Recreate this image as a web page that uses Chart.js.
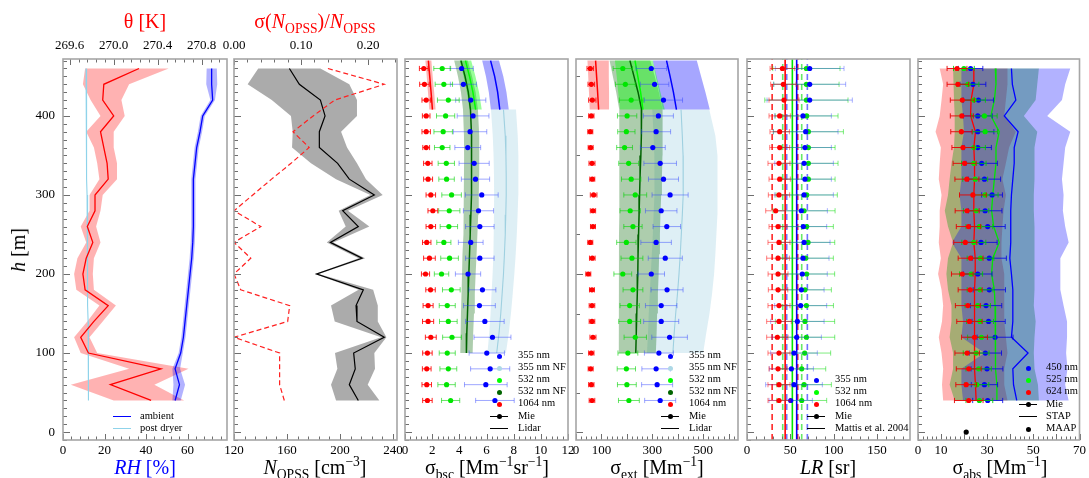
<!DOCTYPE html>
<html><head><meta charset="utf-8">
<script src="https://cdn.jsdelivr.net/npm/chart.js@4.4.1/dist/chart.umd.min.js"></script>
<style>
html,body{margin:0;padding:0;background:#fff;}
#wrap{position:relative;width:1089px;height:478px;overflow:hidden;font-family:'Liberation Serif','Times New Roman',serif;}
#wrap canvas{position:absolute;left:0;top:0;}
.t{position:absolute;white-space:nowrap;line-height:1;color:#000;}
.c{transform:translateX(-50%);}
.ttl{font-size:20px;}
.t sub,.t sup{font-size:68%;line-height:0;}
.lg{position:absolute;font-size:10.5px;line-height:1;white-space:nowrap;color:#000;}
.dot{position:absolute;width:5px;height:5px;border-radius:50%;}
.ln{position:absolute;height:0;}
</style></head>
<body><div id="wrap">
<canvas id="c1" width="1089" height="478"></canvas>
<canvas id="c2" width="1089" height="478"></canvas>
<canvas id="c3" width="1089" height="478"></canvas>
<canvas id="c4" width="1089" height="478"></canvas>
<canvas id="c5" width="1089" height="478"></canvas>
<canvas id="c6" width="1089" height="478"></canvas>
<div class="t c ttl" style="left:145px;top:11px;color:#f00">θ [K]</div>
<div class="t c ttl" style="left:315px;top:11px;color:#f00">σ(<i>N</i><sub>OPSS</sub>)/<i>N</i><sub>OPSS</sub></div>
<div class="t c ttl" style="left:145px;top:457px;color:#00f"><i>RH</i> [%]</div>
<div class="t c ttl" style="left:315px;top:457px"><i>N</i><sub>OPSS</sub> [cm<sup>−3</sup>]</div>
<div class="t c ttl" style="left:487px;top:457px">σ<sub>bsc</sub> [Mm<sup>−1</sup>sr<sup>−1</sup>]</div>
<div class="t c ttl" style="left:657px;top:457px">σ<sub>ext</sub> [Mm<sup>−1</sup>]</div>
<div class="t c ttl" style="left:828px;top:457px"><i>LR</i> [sr]</div>
<div class="t c ttl" style="left:1000px;top:457px">σ<sub>abs</sub> [Mm<sup>−1</sup>]</div>
<div class="t ttl" style="left:18px;top:250px;transform:translate(-50%,-50%) rotate(-90deg)"><i>h</i> [m]</div>
</div>
<script>
// ---------------- DATA ----------------
const heights = [460,440,420,400,380,360,340,320,300,280,260,240,220,200,180,160,140,120,100,80,60,40];

// Panel 1: RH and potential temperature
const rhAmbient   = [71.6,71.6,72.1,67.3,66.0,64.4,63.6,62.8,62.8,62.8,62.8,62.5,62.0,61.2,60.4,59.6,58.8,58.0,56.7,54.0,56.1,54.0];
const rhAmbientLo = [69.2,69.0,71.0,66.3,65.0,63.4,62.6,61.8,61.8,61.8,61.8,61.5,61.0,60.2,59.4,58.6,57.8,57.0,55.7,52.7,53.2,52.7];
const rhAmbientHi = [74.1,74.3,73.2,68.3,67.0,65.4,64.6,63.8,63.8,63.8,63.8,63.5,63.0,62.2,61.4,60.6,59.8,59.0,57.7,56.4,58.8,56.7];
const rhPostDryer = [11.1,11.2,11.2,11.3,11.4,11.4,11.5,11.5,11.6,11.7,11.7,11.8,11.8,11.9,12.0,12.0,12.1,12.1,12.2,12.3,12.3,12.4];
const theta   = [270.23,269.91,269.90,270.00,269.88,269.91,269.94,269.95,269.83,269.83,269.76,269.81,269.75,269.72,269.74,269.95,269.82,269.70,269.77,270.43,269.97,270.34];
const thetaLo = [269.74,269.72,269.79,269.88,269.75,269.82,269.85,269.87,269.78,269.78,269.70,269.75,269.67,269.64,269.66,269.87,269.76,269.64,269.70,270.14,269.61,270.00];
const thetaHi = [270.50,270.14,270.07,270.10,270.00,270.00,270.03,270.03,269.90,269.88,269.84,269.88,269.82,269.81,269.82,270.02,269.90,269.78,269.85,270.68,270.37,270.64];

// Panel 2: OPSS number concentration
const nOpss   = [161.8,169.3,185.2,188.7,184.4,184.4,198.2,207.0,225.9,202.0,213.8,192.7,216.6,182.4,217.6,212.1,212.8,233.4,210.3,211.5,207.0,213.8];
const nOpssLo = [138.3,130.3,148.5,163.0,164.3,163.8,178.1,197.0,222.9,199.0,204.3,190.0,214.0,181.0,214.0,193.2,196.0,231.0,196.2,198.0,193.2,197.0];
const nOpssHi = [185.2,207.0,212.8,212.8,200.8,205.3,212.8,219.6,232.2,206.0,222.1,195.0,219.0,184.0,225.0,228.5,228.5,235.0,225.9,226.4,220.9,229.7];
const nOpssRelStd = [0.140,0.224,0.150,0.118,0.088,0.112,0.085,0.056,0.028,0.000,0.040,0.000,0.025,0.000,0.010,0.083,0.080,0.000,0.068,0.068,0.068,0.075];

// Panel 3: backscatter (Mie)
const bsc1064    = [1.38,1.43,1.56,1.56,1.56,1.56,1.68,1.70,1.90,2.05,1.90,1.60,1.80,1.51,1.88,1.70,1.70,1.90,1.65,1.60,1.60,1.65];
const bsc1064Err = [0.32,0.35,0.31,0.28,0.31,0.25,0.31,0.33,0.35,0.36,0.35,0.31,0.43,0.30,0.35,0.37,0.41,0.40,0.35,0.32,0.35,0.35];
const bsc532     = [2.74,2.86,3.19,2.99,2.81,2.74,3.04,3.06,3.43,3.26,3.23,2.86,3.28,2.69,3.41,3.11,3.19,3.46,3.11,3.19,3.06,3.36];
const bsc532Err  = [0.62,0.64,0.80,0.67,0.68,0.57,0.60,0.57,0.72,0.78,0.64,0.52,0.65,0.53,0.65,0.59,0.65,0.69,0.59,0.62,0.64,0.67];
const bsc355     = [4.17,4.30,4.84,5.01,4.79,4.62,5.09,5.19,5.65,5.41,5.51,4.84,5.51,4.64,5.70,5.48,5.88,6.44,6.02,6.27,5.95,6.62];
const bsc355Err  = [0.86,0.96,1.11,1.17,1.23,0.95,1.11,1.04,1.21,1.11,1.05,0.91,1.05,0.93,0.99,1.17,1.42,1.36,1.30,1.44,1.57,1.42];
// Panel 3: backscatter (Lidar)
const lidarHeightsFF = [470,450,430,408];
const bscLidar1064    = [1.72,1.82,1.92,2.02];
const bscLidar1064Err = [0.22,0.22,0.23,0.23];
const bscLidar532     = [4.45,4.75,5.00,5.20];
const bscLidar532Err  = [0.42,0.44,0.45,0.45];
const bscLidar355     = [6.30,6.60,6.82,6.98];
const bscLidar355Err  = [0.62,0.64,0.65,0.66];
const lidarHeightsNF532 = [470,450,430,408,375,350,325,300,275,250,225,200,175,150,125,100];
const bscLidar532NF     = [4.12,4.42,4.66,4.82,4.90,4.91,4.90,4.88,4.85,4.80,4.75,4.70,4.65,4.60,4.55,4.52];
const bscLidar532NFErr  = [0.50,0.52,0.54,0.55,0.56,0.56,0.56,0.55,0.54,0.53,0.52,0.50,0.49,0.48,0.47,0.46];
const lidarHeightsNF355 = [408,375,350,325,300,275,250,225,200,175,150,125,100];
const bscLidar355NF     = [7.25,7.38,7.43,7.45,7.45,7.42,7.38,7.32,7.25,7.15,7.05,6.92,6.75];
const bscLidar355NFErr  = [0.92,0.92,0.91,0.90,0.89,0.87,0.85,0.83,0.80,0.78,0.75,0.72,0.68];

// Panel 4: extinction (Mie)
const ext1064    = [56.2,60.2,64.1,60.2,56.2,57.6,62.8,64.1,69.3,66.7,66.7,56.2,64.1,48.4,62.8,62.8,62.8,66.7,60.2,57.6,60.2,62.8];
const ext1064Err = [13.0,13.0,14.4,10.5,9.8,9.8,11.8,9.8,13.0,10.5,9.8,9.8,11.1,9.8,9.8,11.1,11.1,11.8,10.5,9.8,10.5,11.1];
const ext532     = [184,194,217,201,198,191,207,217,233,213,224,198,220,184,224,211,211,233,204,198,200,208];
const ext532Err  = [38,39,47,38,34,31,39,38,45,40,36,38,43,35,39,38,43,44,39,36,37,41];
const ext355     = [296,309,344,324,315,302,331,344,370,335,357,315,351,296,358,335,335,368,326,315,319,331];
const ext355Err  = [60,56,75,59,57,49,64,59,71,62,54,60,67,52,63,62,69,70,57,56,61,61];
// Panel 4: extinction (Lidar)
const extLidar1064   = [77,81,85,89];
const extLidar1064Lo = [45,48,51,54];
const extLidar1064Hi = [129,129,130,130];
const extLidar532    = [232,243,254,263];
const extLidar532Lo  = [153,160,166,173];
const extLidar532Hi  = [302,317,332,349];
const extLidar355    = [356,370,383,395];
const extLidar355Lo  = [302,314,327,341];
const extLidar355Hi  = [475,492,509,526];
const extLidar532NF   = [212,228,244,258,257,255,252,250,248,246,244,243,241,239,237,235];
const extLidar532NFLo = [132,145,158,170,171,171,170,170,170,169,169,169,168,168,168,168];
const extLidar532NFHi = [292,310,326,340,341,340,338,335,332,330,327,325,322,319,317,314];
const extLidar355NF   = [413,418,421,422,421,418,414,410,405,399,392,386,381];
const extLidar355NFLo = [300,305,308,309,308,305,302,298,294,290,286,283,279];
const extLidar355NFHi = [524,548,555,557,557,556,552,548,543,535,525,512,500];

// Panel 5: lidar ratio
const lr1064    = [40.8,41.9,42.7,37.7,37.7,37.7,36.9,37.7,36.9,33.1,35.8,36.9,35.8,35.8,35.8,36.9,36.9,35.0,36.9,35.8,36.9,36.9];
const lr1064Err = [14.2,14.6,17.3,12.3,11.2,11.5,12.7,12.3,12.3,11.5,10.4,12.7,13.1,11.5,11.2,12.7,14.2,12.3,12.7,10.4,12.7,12.7];
const lr532     = [68.5,68.5,68.5,68.8,70.8,70.8,70.8,70.8,68.8,65.8,68.8,70.4,67.7,68.8,66.9,68.5,66.9,68.5,66.5,63.1,65.8,63.1];
const lr532Err  = [38.8,37.7,48.0,36.2,40.4,30.8,34.2,30.8,35.4,35.8,30.8,30.8,31.9,32.3,30.4,31.2,34.2,32.7,30.0,27.7,31.5,28.8];
const lr355     = [72.3,72.3,72.3,64.6,67.7,66.9,65.8,66.9,65.8,62.7,65.0,65.8,64.6,63.8,62.7,61.9,58.1,57.3,54.2,51.2,54.2,50.4];
const lr355Err  = [39.6,41.5,49.2,32.7,37.3,30.4,33.8,30.4,33.8,30.0,26.9,30.0,30.0,28.8,26.2,30.0,30.8,28.5,26.9,25.4,32.7,25.0];
// Mattis et al. 2004 (355, 532, 1064)
const lrMattis   = [57.3,52.3,44.0];
const lrMattisLo = [45.8,41.2,29.0];
const lrMattisHi = [69.6,63.1,58.5];

// Panel 6: absorption
const abs624    = [16.9,17.3,19.2,19.0,18.8,19.5,20.2,21.2,23.8,21.3,21.9,20.5,22.8,19.2,22.6,21.6,22.3,24.5,21.3,22.0,20.9,22.0];
const abs624Err = [4.3,4.7,5.2,5.0,4.6,4.8,5.0,5.2,5.8,5.2,5.3,5.0,5.4,4.7,5.2,5.4,5.5,5.6,5.3,5.4,4.5,6.2];
const abs525    = [19.9,21.6,24.2,28.8,29.1,24.2,24.2,24.8,29.1,25.2,26.6,24.2,27.1,23.0,26.9,25.9,26.9,27.5,25.2,26.3,25.5,26.6];
const abs525Err = [4.5,4.8,5.0,5.5,5.4,5.0,5.3,5.4,5.6,5.5,5.8,5.2,5.8,5.0,5.6,5.5,5.8,6.0,5.6,5.5,5.2,5.8];
const abs450    = [22.8,23.8,26.2,25.9,25.9,25.9,27.6,28.8,32.1,29.1,30.2,27.3,30.9,25.9,30.9,29.5,30.6,33.4,29.2,29.9,28.8,30.2];
const abs450Err = [5.3,5.6,6.5,6.3,7.0,5.9,6.8,7.0,4.5,7.3,7.6,7.0,7.4,6.2,7.0,6.8,7.2,7.8,7.0,6.9,5.7,6.5];
const stap624   = [24.2,24.2,23.0,22.8,24.9,24.2,24.5,24.5,24.2,24.2,24.5,24.2,24.8,24.8,24.5,24.5,24.5,24.5,24.5,24.5,24.9,25.2];
const stap624Lo = [9.4,10.9,10.2,9.4,7.6,9.9,9.4,9.0,10.2,9.4,9.4,9.0,9.9,8.7,10.2,10.9,10.4,9.0,10.2,10.9,10.4,10.9];
const stap624Hi = [38.8,38.8,38.1,37.4,42.4,39.5,38.1,36.6,38.1,37.1,36.6,36.2,36.2,37.4,37.4,37.4,37.4,38.1,38.8,37.4,37.4,38.8];
const stap525   = [33.5,33.8,33.1,31.6,35.2,33.8,33.8,33.1,32.4,31.9,32.8,35.2,32.4,31.9,33.1,33.4,33.4,33.4,33.8,33.8,34.2,34.2];
const stap525Lo = [15.2,15.6,15.6,15.9,15.9,15.6,14.5,13.7,13.0,11.6,13.0,15.2,13.0,12.3,13.0,14.5,14.5,13.7,15.2,15.2,13.7,15.9];
const stap525Hi = [52.4,51.7,51.0,45.9,51.7,50.5,50.5,50.5,50.2,50.2,50.5,50.5,50.5,50.5,50.5,50.2,51.0,50.5,50.2,50.5,52.0,52.4];
const stap450   = [40.5,40.9,42.4,37.4,43.4,41.7,41.7,41.1,40.5,40.2,40.2,40.2,39.8,40.5,41.1,41.1,41.1,40.5,47.7,41.1,41.4,42.8];
const stap450Lo = [18.8,18.8,18.8,19.5,19.9,18.8,18.8,18.8,18.0,18.8,18.8,14.7,18.8,18.8,18.8,18.8,19.5,18.8,28.8,18.8,18.8,19.5];
const stap450Hi = [66.0,63.8,62.4,56.0,66.0,63.8,63.1,62.4,63.1,62.8,63.8,65.3,61.7,61.7,61.7,63.1,64.6,64.6,64.2,64.8,63.8,65.3];
const maapAbs = [20.9];
const maapHeights = [0];

// Tick labels
const hTicks = [0,100,200,300,400];
const rhTicks = [0,20,40,60];
const thetaTicks = [269.6,270.0,270.4,270.8];
const nTicks = [120,160,200,240];
const relStdTicks = [0.00,0.10,0.20];
const bscTicks = [0,2,4,6,8,10,12];
const extTicks = [0,100,300,500];
const lrTicks = [0,50,100,150];
const absTicks = [0,10,30,50,70];

// ---------------- HELPERS ----------------
const FONT = "'Liberation Serif', 'Times New Roman', serif";
const W = 1089, HH = 478, TOP = 59, BOTTOM = 440, HMIN = -10, HMAX = 472;
const XAXIS_H = 22, YAXIS_W = 40;
const P = [{l:63,r:227},{l:234,r:397},{l:405,r:568},{l:576,r:738},{l:747,r:910},{l:918,r:1081}];

function seq(a, b, step){const o=[];for(let i=0;;i++){const v=a+i*step;if(v>b+1e-9)break;o.push(+v.toFixed(6));}return o;}
const pts = (xs, hs) => xs.map((x,i)=>({x, y:hs[i]}));
const poly = (lo, hi, hs) => pts(lo, hs).concat(pts(hi, hs).reverse());
const polyErr = (c, e, hs) => poly(c.map((v,i)=>v-e[i]), c.map((v,i)=>v+e[i]), hs);

const band = (data, color, xAxisID='x') => ({data, xAxisID, showLine:true, fill:'shape', backgroundColor:color, borderColor:'rgba(0,0,0,0)', borderWidth:0, pointRadius:0});
const line = (data, color, width, dash, xAxisID='x') => ({data, xAxisID, showLine:true, fill:false, borderColor:color, backgroundColor:color, borderWidth:width, borderDash:dash||[], pointRadius:0});
const dots = (data, color, err, errColor, r=2.6) => ({data, showLine:false, pointRadius:r, pointBorderWidth:0, pointBackgroundColor:color, backgroundColor:color, borderColor:color, errX:err, errColor});

const framePlugin = {
  id:'frame',
  afterDraw(chart, args, opts){
    const {ctx, chartArea:a} = chart;
    ctx.save();
    ctx.strokeStyle = '#6e6e6e'; ctx.lineWidth = 1;
    (opts.marks||[]).forEach(m=>{
      const s = chart.scales[m.scale];
      m.values.forEach(v=>{
        const p = Math.round(s.getPixelForValue(v))+0.5;
        ctx.beginPath();
        if(m.side==='left'){ctx.moveTo(a.left,p);ctx.lineTo(a.left+m.len,p);}
        else if(m.side==='bottom'){ctx.moveTo(p,a.bottom);ctx.lineTo(p,a.bottom-m.len);}
        else {ctx.moveTo(p,a.top);ctx.lineTo(p,a.top+m.len);}
        ctx.stroke();
      });
    });
    ctx.strokeStyle = '#a6a6a6'; ctx.lineWidth = 1.6;
    ctx.strokeRect(a.left, a.top, a.right-a.left, a.bottom-a.top);
    ctx.restore();
  }
};
const errPlugin = {
  id:'errbars',
  beforeDatasetDraw(chart, args){
    const ds = chart.data.datasets[args.index];
    if(!ds.errX) return;
    const xs = chart.scales[args.meta.xAxisID], ys = chart.scales[args.meta.yAxisID];
    const ctx = chart.ctx, a = chart.chartArea;
    ctx.save();
    ctx.beginPath(); ctx.rect(a.left, a.top, a.right-a.left, a.bottom-a.top); ctx.clip();
    ctx.strokeStyle = ds.errColor; ctx.lineWidth = 1;
    ds.data.forEach((p,i)=>{
      const e = ds.errX[i];
      const x0 = xs.getPixelForValue(p.x-e), x1 = xs.getPixelForValue(p.x+e), y = ys.getPixelForValue(p.y);
      ctx.beginPath();
      ctx.moveTo(x0,y); ctx.lineTo(x1,y);
      ctx.moveTo(x0,y-2.6); ctx.lineTo(x0,y+2.6);
      ctx.moveTo(x1,y-2.6); ctx.lineTo(x1,y+2.6);
      ctx.stroke();
    });
    ctx.restore();
  }
};

function xAxis(min, max, labels, fmt, position='bottom'){
  return {type:'linear', position, min, max,
    grid:{display:false, drawTicks:false}, border:{display:false},
    ticks:{autoSkip:false, maxRotation:0, padding: position==='top'?6:3, color:'#000', font:{family:FONT,size:13}, callback:(v)=>fmt(v)},
    afterBuildTicks:(s)=>{s.ticks = labels.map(v=>({value:v}));},
    afterFit:(s)=>{s.height = XAXIS_H;}
  };
}
function yAxis(show){
  return {type:'linear', position:'left', min:HMIN, max:HMAX,
    grid:{display:false, drawTicks:false}, border:{display:false},
    ticks:{display:show, autoSkip:false, padding:8, color:'#000', font:{family:FONT,size:13}},
    afterBuildTicks:(s)=>{s.ticks = hTicks.map(v=>({value:v}));},
    afterFit:(s)=>{s.width = show ? YAXIS_W : 0;}
  };
}
const hMinor10 = seq(-10, 470, 10).filter(v=>v%100!==0);
const hMinor50 = seq(0, 450, 50).filter(v=>v%100!==0);
function yMarks(minor){return [{scale:'y',side:'left',values:hTicks,len:7},{scale:'y',side:'left',values:minor,len:4}];}

function makeChart(id, p, datasets, scales, marks){
  const hasTop = !!scales.x2, showY = scales.y.ticks.display;
  return new Chart(document.getElementById(id), {
    type:'scatter',
    data:{datasets},
    options:{
      responsive:false, animation:false, events:[],
      layout:{padding:{left:p.l-(showY?YAXIS_W:0), right:W-p.r, top:TOP-(hasTop?XAXIS_H:0), bottom:HH-BOTTOM-XAXIS_H}},
      plugins:{legend:{display:false}, tooltip:{enabled:false}, frame:{marks}},
      scales
    },
    plugins:[framePlugin, errPlugin]
  });
}
const f0 = v=>String(v), f1 = v=>v.toFixed(1), f2 = v=>v.toFixed(2);

// ---------------- PANEL 1 ----------------
makeChart('c1', P[0], [
  line(pts(theta, heights), '#ff0000', 1.3, null, 'x2'),
  line(pts(rhAmbient, heights), '#0000ff', 1.3),
  line(pts(rhPostDryer, heights), '#8fd3ea', 1.1),
  band(poly(rhAmbientLo, rhAmbientHi, heights), 'rgba(0,0,255,0.3)'),
  band(poly(thetaLo, thetaHi, heights), 'rgba(255,0,0,0.3)', 'x2')
], {x:xAxis(0,79,rhTicks,f0), x2:xAxis(269.539,271.03,thetaTicks,f1,'top'), y:yAxis(true)},
 yMarks(hMinor10).concat([
  {scale:'x',side:'bottom',values:rhTicks,len:6},{scale:'x',side:'bottom',values:seq(0,79,4).filter(v=>v%20!==0),len:3.5},
  {scale:'x2',side:'top',values:thetaTicks,len:6},{scale:'x2',side:'top',values:seq(269.6,271.0,0.08).filter(v=>!thetaTicks.some(t=>Math.abs(t-v)<1e-6)),len:3.5}
 ]));

// ---------------- PANEL 2 ----------------
makeChart('c2', P[1], [
  line(pts(nOpssRelStd, heights), '#ff2020', 1.2, [5,3], 'x2'),
  line(pts(nOpss, heights), '#000000', 1.2),
  band(poly(nOpssLo, nOpssHi, heights), 'rgba(120,120,120,0.62)')
], {x:xAxis(120,243,nTicks,f0), x2:xAxis(0,0.243,relStdTicks,f2,'top'), y:yAxis(false)},
 yMarks(hMinor10).concat([
  {scale:'x',side:'bottom',values:nTicks,len:6},{scale:'x',side:'bottom',values:seq(120,243,8).filter(v=>(v-120)%40!==0),len:3.5},
  {scale:'x2',side:'top',values:relStdTicks,len:6},{scale:'x2',side:'top',values:seq(0,0.243,0.02).filter(v=>!relStdTicks.some(t=>Math.abs(t-v)<1e-6)),len:3.5}
 ]));

// ---------------- PANEL 3 ----------------
makeChart('c3', P[2], [
  dots(pts(bsc1064, heights), '#ff0000', bsc1064Err, 'rgba(255,0,0,0.85)'),
  dots(pts(bsc532, heights), '#00e600', bsc532Err, 'rgba(0,210,0,0.6)'),
  dots(pts(bsc355, heights), '#0000ff', bsc355Err, 'rgba(40,60,255,0.45)'),
  line(pts(bscLidar1064, lidarHeightsFF), '#ff0000', 1.5),
  line(pts(bscLidar532, lidarHeightsFF), '#00ff00', 1.5),
  line(pts(bscLidar355, lidarHeightsFF), '#0000ff', 1.5),
  line(pts(bscLidar532NF, lidarHeightsNF532), '#006400', 1.5),
  line(pts(bscLidar355NF, lidarHeightsNF355), '#9fd0e0', 1.1),
  band(polyErr(bscLidar1064, bscLidar1064Err, lidarHeightsFF), 'rgba(255,0,0,0.3)'),
  band(polyErr(bscLidar532, bscLidar532Err, lidarHeightsFF), 'rgba(0,255,0,0.4)'),
  band(polyErr(bscLidar355, bscLidar355Err, lidarHeightsFF), 'rgba(0,0,255,0.35)'),
  band(polyErr(bscLidar532NF, bscLidar532NFErr, lidarHeightsNF532), 'rgba(0,100,0,0.32)'),
  band(polyErr(bscLidar355NF, bscLidar355NFErr, lidarHeightsNF355), 'rgba(173,216,230,0.4)')
], {x:xAxis(0,12,bscTicks,f0), y:yAxis(false)},
 yMarks(hMinor10).concat([
  {scale:'x',side:'bottom',values:bscTicks,len:6},{scale:'x',side:'bottom',values:seq(0,12,0.4).filter(v=>Math.abs(v/2-Math.round(v/2))>1e-6),len:3.5}
 ]));

// ---------------- PANEL 4 ----------------
makeChart('c4', P[3], [
  dots(pts(ext1064, heights), '#ff0000', ext1064Err, 'rgba(255,0,0,0.85)'),
  dots(pts(ext532, heights), '#00e600', ext532Err, 'rgba(0,210,0,0.6)'),
  dots(pts(ext355, heights), '#0000ff', ext355Err, 'rgba(40,60,255,0.45)'),
  line(pts(extLidar1064, lidarHeightsFF), '#ff0000', 1.5),
  line(pts(extLidar532, lidarHeightsFF), '#00ff00', 1.5),
  line(pts(extLidar355, lidarHeightsFF), '#0000ff', 1.5),
  line(pts(extLidar532NF, lidarHeightsNF532), '#006400', 1.5),
  line(pts(extLidar355NF, lidarHeightsNF355), '#9fd0e0', 1.1),
  band(poly(extLidar1064Lo, extLidar1064Hi, lidarHeightsFF), 'rgba(255,0,0,0.3)'),
  band(poly(extLidar532Lo, extLidar532Hi, lidarHeightsFF), 'rgba(0,255,0,0.4)'),
  band(poly(extLidar355Lo, extLidar355Hi, lidarHeightsFF), 'rgba(0,0,255,0.35)'),
  band(poly(extLidar532NFLo, extLidar532NFHi, lidarHeightsNF532), 'rgba(0,100,0,0.32)'),
  band(poly(extLidar355NFLo, extLidar355NFHi, lidarHeightsNF355), 'rgba(173,216,230,0.4)')
], {x:xAxis(0,637,extTicks,f0), y:yAxis(false)},
 yMarks(hMinor50).concat([
  {scale:'x',side:'bottom',values:seq(0,600,100),len:6},{scale:'x',side:'bottom',values:seq(0,637,20).filter(v=>v%100!==0),len:3.5}
 ]));

// ---------------- PANEL 5 ----------------
const vline = (v, color, dash) => line([{x:v,y:HMIN},{x:v,y:HMAX}], color, 1.6, dash);
const lrColors = ['#0000ff','#00e600','#ff0000'];
const lrDash = ['rgba(80,80,255,0.8)','rgba(0,220,0,0.6)','rgba(255,0,0,0.85)'];
makeChart('c5', P[4], [
  dots(pts(lr1064, heights), '#ff0000', lr1064Err, 'rgba(255,0,0,0.5)'),
  dots(pts(lr355, heights), '#0000ff', lr355Err, 'rgba(40,60,255,0.4)'),
  dots(pts(lr532, heights), '#00e600', lr532Err, 'rgba(0,220,0,0.5)'),
  ...lrMattis.map((v,i)=>vline(v, lrColors[i])),
  ...lrMattisLo.map((v,i)=>vline(v, lrDash[i], [6,4])),
  ...lrMattisHi.map((v,i)=>vline(v, lrDash[i], [6,4]))
], {x:xAxis(0,188,lrTicks,f0), y:yAxis(false)},
 yMarks(hMinor10).concat([
  {scale:'x',side:'bottom',values:lrTicks,len:6},{scale:'x',side:'bottom',values:seq(0,188,10).filter(v=>v%50!==0),len:3.5}
 ]));

// ---------------- PANEL 6 ----------------
makeChart('c6', P[5], [
  dots(pts(maapAbs, maapHeights), '#000000', null, null, 2.6),
  dots(pts(abs624, heights), '#ff0000', abs624Err, 'rgba(230,0,0,0.9)'),
  dots(pts(abs525, heights), '#00e600', abs525Err, 'rgba(0,200,0,0.85)'),
  dots(pts(abs450, heights), '#0000ff', abs450Err, 'rgba(0,0,230,0.8)'),
  line(pts(stap624, heights), '#ff0000', 1.3),
  line(pts(stap525, heights), '#00e600', 1.3),
  line(pts(stap450, heights), '#0000ff', 1.3),
  band(poly(stap450Lo, stap450Hi, heights), 'rgba(0,0,255,0.3)'),
  band(poly(stap525Lo, stap525Hi, heights), 'rgba(0,160,0,0.35)'),
  band(poly(stap624Lo, stap624Hi, heights), 'rgba(255,0,0,0.3)')
], {x:xAxis(0,70,absTicks,f0), y:yAxis(false)},
 yMarks(hMinor10).concat([
  {scale:'x',side:'bottom',values:seq(0,70,10),len:6},{scale:'x',side:'bottom',values:seq(0,70,2).filter(v=>v%10!==0),len:3.5}
 ]));

// ---------------- LEGENDS (HTML) ----------------
const wrap = document.getElementById('wrap');
function addLegend(entries, mx, tx, y0, dy){
  entries.forEach((e,i)=>{
    const y = y0 + i*dy;
    const [label, kind, color] = e;
    if(kind==='dot'||kind==='linedot'){
      const d=document.createElement('div'); d.className='dot';
      d.style.cssText=`left:${mx-2.5}px;top:${y-2.5}px;background:${color}`; wrap.appendChild(d);
    }
    if(kind==='line'||kind==='linedot'){
      const l=document.createElement('div'); l.className='ln';
      l.style.cssText=`left:${mx-9}px;top:${y-0.6}px;width:18px;border-top:1.3px solid ${color}`; wrap.appendChild(l);
    }
    const t=document.createElement('div'); t.className='lg';
    t.style.cssText=`left:${tx}px;top:${y-6}px`; t.textContent=label; wrap.appendChild(t);
  });
}
const legendP1 = [['ambient','line','#0000ff'],['post dryer','line','#8fd3ea']];
const legendLidar = [['355 nm','dot','#0000ff'],['355 nm NF','dot','#add8e6'],['532 nm','dot','#00ff00'],['532 nm NF','dot','#006400'],['1064 nm','dot','#ff0000'],['Mie','linedot','#000'],['Lidar','line','#000']];
const legendLR = [['355 nm','dot','#0000ff'],['532 nm','dot','#00ff00'],['1064 nm','dot','#ff0000'],['Mie','linedot','#000'],['Mattis et al. 2004','line','#000']];
const legendAbs = [['450 nm','dot','#0000ff'],['525 nm','dot','#00ff00'],['624 nm','dot','#ff0000'],['Mie','linedot','#000'],['STAP','line','#000'],['MAAP','dot','#000']];
addLegend(legendP1, 122, 140, 416.7, 12.3);
addLegend(legendLidar, 499, 518, 356, 12.1);
addLegend(legendLidar, 670, 689, 356, 12.1);
addLegend(legendLR, 816, 835, 380, 12.2);
addLegend(legendAbs, 1028, 1046, 368, 12.2);
</script>
</body></html>
